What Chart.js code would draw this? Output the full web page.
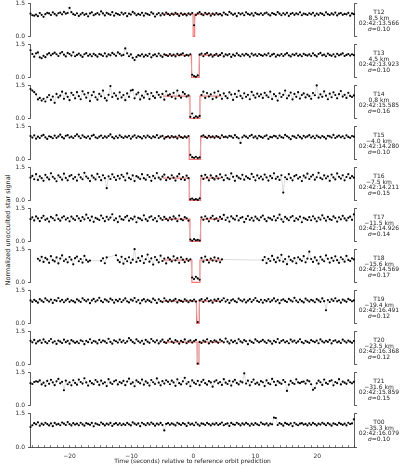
<!DOCTYPE html>
<html>
<head>
<meta charset="utf-8">
<script src="https://cdn.jsdelivr.net/npm/chart.js@4.4.0/dist/chart.umd.min.js"></script>
<style>
  body { margin: 0; background: #fff; }
  #wrap { position: relative; width: 400px; height: 465px; overflow: hidden; font-family: "DejaVu Sans", sans-serif; color: #222; }
  #wrap canvas { position: absolute; left: 0; }
  .tag { position: absolute; left: 356px; width: 46px; text-align: center; font-size: 6px; line-height: 5.7px; white-space: nowrap; }
  #ytitle { position: absolute; left: -142px; top: 226px; width: 300px; text-align: center; font-size: 6.5px; line-height: 8px; transform: rotate(-90deg); }
</style>
</head>
<body>
<div id="wrap"><div id="ytitle">Normalized unocculted star signal</div></div>
<script>
// sampling: one point every 0.3 s starting at t0
const t0 = -26.3;
const cadence = 0.3;

const stations = ['T12', 'T13', 'T14', 'T15', 'T16', 'T17', 'T18', 'T19', 'T20', 'T21', 'T00'];
const distances = ['8.5 km', '4.5 km', '0.8 km', '\u22124.0 km', '\u22127.5 km', '\u221211.5 km', '\u221215.6 km', '\u221219.4 km', '\u221223.5 km', '\u221231.6 km', '\u221235.3 km'];
const midTimes = ['02:42:13.566', '02:42:13.923', '02:42:15.585', '02:42:14.280', '02:42:14.211', '02:42:14.926', '02:42:14.569', '02:42:16.491', '02:42:16.368', '02:42:15.859', '02:42:16.079'];
const sigmas = ['0.10', '0.10', '0.16', '0.10', '0.15', '0.14', '0.17', '0.12', '0.12', '0.15', '0.10'];

// square-well model (seconds), null = no detection
const ingress = [-0.05, -0.3, -0.56, -0.68, -0.68, -0.56, -0.25, 0.5, 0.6, null, null];
const egress = [0.2, 0.95, 1.05, 1.16, 1.16, 1.16, 1.05, 0.95, 0.9, null, null];
const modelFrom = -4.9;
const modelTo = 4.5;

const fluxT12 = [
  1.02, 0.95, 0.93, 0.98, 0.91, 1.05, 0.97, 0.88, 1.00, 1.06, 1.03, 0.96, 1.08, 1.01, 0.94, 1.04, 1.07, 0.99, 1.10, 1.02, 1.05, 1.28, 1.09, 1.00, 0.96,
  1.04, 0.92, 0.99, 1.06, 0.97, 1.01, 0.90, 1.03, 1.08, 0.95, 1.00, 1.05, 0.98, 1.12, 1.03, 0.94, 1.06, 1.01, 0.97, 1.09, 0.93, 1.04, 1.00, 0.96, 1.07,
  0.99, 1.05, 0.91, 1.02, 0.98, 1.10, 1.03, 0.95, 1.01, 0.97, 1.06, 0.93, 1.04, 1.00, 0.96, 1.08, 1.02, 0.89, 0.99, 1.05, 0.94, 1.03, 0.97, 1.07, 1.01,
  0.95, 1.02, 0.98, 1.06, 1.00, 0.92, 1.04, 0.97, 1.01, 0.94, 1.03, 0.98, 1.05, 0.50, 0.96, 1.03, 1.09, 1.00, 0.95, 1.06, 0.99, 1.04, 0.93, 1.02, 0.97,
  1.05, 0.98, 1.01, 0.94, 1.07, 1.00, 0.96, 1.10, 1.03, 0.97, 1.02, 0.91, 1.05, 0.99, 1.04, 0.95, 1.08, 1.01, 0.97, 1.03, 0.93, 1.06, 1.00, 0.98, 1.04,
  0.96, 1.03, 1.07, 0.99, 0.94, 1.05, 1.01, 0.97, 1.09, 1.02, 0.95, 1.04, 0.98, 1.06, 0.92, 1.01, 1.05, 0.97, 1.03, 0.99, 1.08, 0.95, 1.02, 1.00, 0.96,
  1.04, 0.99, 1.06, 0.93, 1.02, 0.97, 1.05, 1.01, 0.95, 1.08, 1.00, 0.96, 1.03, 0.98, 1.07, 0.94, 1.02, 1.05, 0.97, 1.01, 0.99, 1.06, 0.93, 1.03, 1.00
];
const fluxT13 = [
  1.22, 1.05, 0.93, 1.08, 1.12, 0.90, 0.86, 0.97, 0.91, 1.03, 1.09, 0.99, 1.06, 1.11, 1.04, 0.96, 1.08, 1.14, 1.02, 0.94, 1.10, 1.05, 0.98, 1.13, 0.95,
  1.01, 1.07, 0.99, 0.92, 1.04, 1.09, 0.97, 1.03, 0.95, 1.06, 1.00, 0.93, 1.05, 1.02, 0.96, 1.08, 0.94, 1.03, 0.99, 1.10, 1.04, 0.97, 1.12, 1.06, 0.98,
  1.01, 1.30, 1.08, 0.95, 1.03, 0.88, 0.78, 0.92, 1.00, 0.97, 1.04, 0.93, 1.01, 0.96, 1.06, 0.90, 0.99, 1.03, 0.95, 1.07, 0.98, 0.92, 1.04, 1.00, 0.96,
  1.05, 0.97, 1.02, 0.94, 1.06, 0.99, 1.03, 1.08, 0.96, 1.01, 0.98, 1.04, 0.12, 0.06, 0.03, 0.09, 1.02, 1.07, 0.95, 1.05, 1.10, 0.98, 1.03, 0.93, 1.00,
  1.06, 0.96, 1.01, 1.09, 0.94, 1.03, 0.99, 1.05, 0.92, 1.02, 0.97, 1.08, 1.00, 0.95, 1.04, 0.98, 1.06, 1.01, 0.93, 1.07, 0.99, 1.03, 0.96, 1.05, 1.00,
  0.97, 1.04, 0.99, 1.08, 0.95, 1.02, 1.06, 0.93, 1.01, 0.98, 1.05, 0.96, 1.03, 1.09, 0.99, 0.94, 1.04, 1.00, 1.07, 0.97, 1.02, 0.95, 1.06, 1.01, 0.98,
  1.03, 0.96, 1.08, 1.00, 0.94, 1.05, 1.10, 0.99, 1.02, 0.95, 1.07, 1.01, 0.97, 1.04, 0.93, 1.06, 0.99, 1.03, 1.08, 0.96, 1.01, 1.05, 0.98, 1.04, 1.00
];
const fluxT14 = [
  1.32, 1.25, 1.18, 1.08, 0.85, 0.92, 0.80, 0.88, 0.76, 0.95, 1.05, 0.83, 0.98, 0.70, 1.10, 0.94, 1.02, 1.20, 0.88, 1.12, 0.97, 0.82, 1.15, 1.05, 0.90,
  1.18, 1.00, 0.86, 1.22, 1.08, 0.93, 1.15, 0.78, 1.04, 1.19, 0.95, 0.84, 1.10, 0.99, 1.25, 0.91, 0.80, 1.06, 1.45, 0.96, 1.13, 1.02, 0.88, 1.17, 0.94,
  1.05, 0.82, 1.12, 0.97, 1.25, 1.28, 0.90, 1.08, 1.16, 0.85, 1.02, 0.93, 1.21, 1.09, 0.87, 1.14, 1.00, 0.92, 1.18, 1.06, 0.95, 1.10, 0.84, 1.22, 1.03,
  1.08, 0.96, 1.15, 0.89, 1.25, 1.02, 0.93, 1.18, 1.10, 0.98, 1.03, 0.07, 0.22, 0.03, 0.09, 0.05, 0.11, 1.05, 1.20, 0.92, 1.14, 0.98, 1.08, 0.87, 1.16,
  0.94, 1.22, 1.05, 0.88, 1.12, 1.00, 0.91, 1.17, 1.07, 0.83, 1.10, 0.96, 1.24, 1.01, 0.90, 1.13, 0.97, 1.06, 0.86, 1.19, 1.04, 0.93, 1.11, 0.99, 1.08,
  0.92, 1.15, 1.03, 0.95, 1.20, 0.87, 1.09, 1.00, 0.80, 1.13, 0.96, 1.06, 1.25, 0.90, 1.02, 1.16, 0.85, 1.10, 0.97, 1.18, 0.89, 1.05, 1.12, 0.94, 1.07,
  1.00, 0.88, 1.14, 1.04, 1.48, 0.93, 1.08, 0.97, 1.21, 1.02, 0.86, 1.11, 0.95, 1.17, 1.05, 0.90, 1.09, 1.23, 0.98, 1.06, 0.92, 1.15, 1.01, 0.96, 1.03
];
const fluxT15 = [
  1.05, 0.98, 1.08, 0.93, 1.02, 0.96, 1.06, 1.10, 0.99, 0.92, 1.04, 1.01, 0.95, 1.07, 0.97, 1.03, 1.11, 1.00, 0.94, 1.06, 1.09, 0.98, 1.02, 0.96, 1.05,
  1.12, 1.03, 0.95, 1.08, 1.01, 0.97, 1.04, 0.93, 1.06, 1.10, 0.99, 0.95, 1.02, 1.07, 0.96, 1.03, 0.98, 1.05, 1.12, 1.00, 0.94, 1.04, 0.97, 1.08, 1.01,
  0.96, 1.03, 0.99, 1.06, 0.93, 1.02, 1.08, 0.97, 1.04, 1.00, 0.94, 1.05, 0.98, 1.07, 1.01, 0.95, 1.03, 0.99, 1.09, 0.96, 1.02, 1.06, 0.93, 1.00, 1.04,
  0.97, 1.05, 0.99, 1.02, 0.94, 1.07, 1.00, 0.96, 1.03, 0.98, 1.05, 0.20, 0.10, 0.07, 0.12, 0.06, 0.09, 1.04, 1.08, 1.01, 0.96, 1.06, 0.99, 1.03, 0.97,
  1.05, 1.01, 0.95, 1.08, 1.00, 1.02, 0.98, 1.06, 1.03, 0.97, 1.09, 1.00, 0.95, 0.74, 0.99, 1.07, 1.02, 0.96, 1.05, 1.10, 0.98, 1.03, 0.94, 1.06, 1.01,
  0.97, 1.04, 1.08, 0.92, 1.01, 0.99, 1.06, 1.03, 0.95, 1.07, 1.00, 0.97, 1.10, 1.04, 0.98, 0.91, 1.05, 1.02, 0.96, 1.08, 1.01, 0.94, 1.06, 0.99, 1.03,
  1.09, 0.98, 1.04, 0.95, 1.07, 1.01, 0.97, 1.05, 1.00, 0.93, 1.06, 1.03, 0.98, 1.10, 0.96, 1.02, 1.07, 0.99, 1.04, 0.95, 1.08, 1.01, 0.97, 1.05, 1.02
];
const fluxT16 = [
  1.02, 1.10, 0.95, 1.18, 0.92, 1.08, 1.00, 0.88, 1.15, 1.03, 0.94, 1.22, 1.06, 0.98, 0.86, 1.12, 1.04, 0.93, 1.20, 1.01, 0.90, 1.09, 1.14, 0.97, 1.05,
  0.89, 1.16, 1.03, 0.95, 1.24, 1.07, 0.99, 0.87, 1.11, 1.02, 0.94, 1.19, 1.05, 0.91, 1.13, 1.00, 0.55, 1.08, 0.96, 1.17, 1.04, 0.92, 1.10, 0.98, 1.15,
  1.06, 0.90, 1.21, 1.01, 0.95, 1.12, 0.87, 1.09, 1.03, 0.96, 1.18, 1.00, 0.93, 1.14, 1.05, 0.88, 1.10, 0.99, 1.23, 1.02, 0.94, 1.07, 1.16, 0.91, 1.04,
  0.97, 1.13, 1.02, 0.89, 1.08, 1.19, 0.95, 1.05, 0.92, 1.11, 1.00, 0.05, 0.08, 0.03, 0.06, 0.02, 0.09, 1.10, 0.96, 1.15, 1.03, 0.90, 1.12, 1.01, 0.94,
  1.09, 0.98, 1.17, 1.04, 0.91, 1.13, 1.00, 0.95, 1.21, 1.06, 0.88, 1.10, 1.02, 0.97, 1.15, 0.93, 1.08, 1.01, 0.96, 1.19, 1.05, 0.90, 1.12, 0.99, 1.07,
  0.94, 1.16, 1.03, 0.89, 1.10, 1.00, 1.22, 0.97, 1.06, 0.92, 1.13, 0.35, 1.04, 0.95, 1.18, 1.01, 0.90, 1.09, 1.14, 0.98, 1.05, 0.87, 1.11, 1.02, 1.20,
  0.96, 1.07, 1.15, 0.93, 1.04, 1.24, 1.01, 0.95, 1.12, 0.99, 1.08, 0.88, 1.16, 1.03, 0.94, 1.21, 1.06, 0.98, 1.13, 0.90, 1.05, 1.18, 1.00, 1.09, 1.02
];
const fluxT17 = [
  1.00, 1.08, 0.94, 1.12, 1.03, 0.91, 1.06, 1.15, 0.97, 1.02, 0.89, 1.10, 1.04, 0.95, 1.18, 1.01, 0.93, 1.07, 1.13, 0.98, 1.05, 0.90, 1.11, 1.02, 0.96,
  1.14, 1.03, 0.92, 1.09, 0.99, 1.20, 1.05, 0.94, 1.11, 0.88, 1.06, 1.01, 0.96, 1.16, 1.04, 0.91, 1.10, 0.98, 1.07, 1.22, 0.95, 1.03, 0.87, 1.12, 1.00,
  0.97, 1.09, 1.15, 0.93, 1.04, 0.99, 1.11, 0.86, 1.06, 1.02, 0.95, 1.17, 1.00, 0.92, 1.08, 1.13, 0.97, 1.05, 0.90, 1.14, 1.03, 0.96, 1.10, 1.01, 0.94,
  1.07, 0.98, 1.12, 1.03, 0.91, 1.16, 1.00, 0.95, 1.09, 1.04, 0.93, 0.08, 0.03, 0.10, 0.05, 0.07, 0.04, 1.08, 0.97, 1.13, 1.02, 0.90, 1.06, 1.15, 0.99,
  1.04, 0.92, 1.10, 1.01, 1.19, 0.96, 1.07, 0.89, 1.12, 1.03, 0.98, 1.15, 0.94, 1.05, 1.09, 0.87, 1.01, 1.14, 0.97, 1.06, 0.93, 1.11, 1.02, 0.95, 1.08,
  1.16, 1.00, 0.91, 1.07, 1.03, 0.97, 1.13, 0.94, 1.05, 1.20, 0.99, 0.88, 1.10, 1.02, 0.95, 1.08, 1.14, 0.92, 1.04, 0.98, 1.11, 0.86, 1.06, 1.01, 0.96,
  1.09, 0.95, 1.13, 1.02, 0.90, 1.07, 0.98, 1.17, 1.04, 0.93, 1.10, 1.00, 0.96, 1.12, 1.05, 0.89, 1.08, 0.99, 1.15, 1.03, 0.94, 1.06, 1.11, 0.97, 1.21
];
const fluxT18 = [
  null, null, null, null, 1.06, 0.98, 1.15, 0.92, 1.10, 1.03, 0.88, 1.18, 1.00, 0.94, 1.12, 0.85, 1.07, 1.21, 0.96, 1.04, 0.90, 1.14, 1.02, 0.81, 1.09,
  1.16, 0.95, 1.05, 0.89, 1.19, 1.01, 0.93, 0.98, null, null, null, null, null, 0.97, 1.08, 0.86, 1.12, null, null, null, null, 1.22, 1.00, 0.91, 1.15,
  0.84, 1.06, 0.95, 1.13, 0.88, 1.02, 1.49, 0.92, 1.10, 0.97, 1.18, 0.87, 1.04, 1.25, 0.93, 1.08, 0.80, 1.14, 1.01, 0.90, 1.20, 0.96, 1.07, 0.85, 1.11,
  1.03, 0.94, 1.17, 0.99, 1.09, 0.88, 1.13, 1.02, 0.91, 1.06, 0.97, 1.04, 0.22, 0.15, 0.25, 0.18, 0.12, 1.10, 0.93, 1.16, 1.01, 0.89, 1.07, 0.98, 1.12,
  0.95, 1.08, 0.90, 1.03, null, null, null, null, null, null, null, null, null, null, null, null, null, null, null, null, null, null, null, null, null,
  1.00, 1.14, 0.87, 1.06, 0.96, 1.19, 1.02, 0.91, 1.11, 0.98, 1.24, 0.93, 1.05, 0.82, 1.16, 1.01, 0.94, 1.09, 0.86, 1.13, 1.03, 0.97, 1.18, 0.90, 1.07,
  1.38, 1.05, 0.92, 1.12, 0.99, 0.84, 1.15, 1.02, 0.95, 1.21, 1.06, 0.89, 1.10, 0.97, 1.17, 1.00, 0.88, 1.13, 1.04, 0.93, 1.19, 1.01, 0.96, 1.08, 1.03
];
const fluxT19 = [
  1.03, 0.97, 1.06, 1.00, 0.93, 1.09, 1.02, 0.96, 1.12, 1.04, 0.98, 1.07, 0.92, 1.05, 1.01, 1.14, 0.99, 1.06, 0.95, 1.03, 1.10, 0.97, 1.04, 1.00, 0.94,
  1.08, 1.02, 0.96, 1.13, 1.05, 0.99, 1.07, 0.91, 1.03, 1.10, 0.98, 1.04, 1.15, 1.01, 0.95, 1.08, 1.03, 0.97, 1.11, 1.05, 0.93, 1.06, 1.00, 1.09, 0.96,
  1.04, 1.12, 0.99, 0.94, 1.07, 1.02, 1.14, 0.97, 1.05, 0.90, 1.03, 1.09, 0.98, 1.06, 1.01, 0.95, 1.11, 1.04, 0.92, 1.08, 1.00, 0.96, 1.13, 1.02, 0.97,
  1.06, 0.99, 1.03, 1.10, 0.94, 1.05, 1.01, 0.97, 1.08, 1.02, 0.95, 1.04, 1.00, 1.07, 0.98, 0.06, 1.03, 1.09, 0.96, 1.05, 1.12, 0.99, 1.04, 0.93, 1.07,
  1.01, 1.10, 0.97, 1.04, 1.13, 0.98, 1.06, 0.92, 1.03, 1.08, 1.00, 0.95, 1.11, 1.04, 0.99, 1.07, 0.94, 1.02, 1.09, 0.97, 1.05, 1.14, 1.01, 0.96, 1.06,
  0.93, 1.05, 1.00, 1.09, 0.97, 1.03, 1.12, 0.99, 1.06, 0.91, 1.04, 1.08, 1.01, 0.96, 1.10, 1.03, 0.98, 1.15, 1.02, 0.95, 1.07, 1.00, 0.94, 1.11, 1.04,
  0.98, 1.06, 1.02, 0.95, 1.09, 1.03, 0.97, 1.12, 1.00, 0.59, 1.05, 0.96, 1.08, 1.01, 1.13, 0.99, 1.04, 0.93, 1.07, 1.02, 0.97, 1.10, 1.05, 0.99, 1.03
];
const fluxT20 = [
  1.06, 0.99, 1.10, 0.94, 1.03, 1.08, 0.97, 1.12, 1.01, 0.95, 1.05, 1.14, 0.98, 1.04, 0.92, 1.07, 1.02, 0.96, 1.11, 1.00, 1.06, 0.93, 1.09, 1.03, 0.97,
  1.02, 0.95, 1.08, 1.04, 0.91, 1.06, 1.00, 1.13, 0.97, 1.05, 1.02, 0.94, 1.10, 0.99, 1.07, 1.03, 0.96, 1.15, 1.01, 0.93, 1.08, 1.04, 0.98, 1.11, 1.00,
  1.07, 0.96, 1.03, 1.18, 1.09, 1.01, 0.95, 1.12, 1.04, 0.98, 1.06, 0.92, 1.10, 1.02, 0.97, 1.14, 1.05, 0.99, 1.08, 0.94, 1.03, 1.11, 1.00, 0.96, 1.07,
  1.15, 1.02, 0.97, 1.09, 1.04, 0.93, 1.06, 1.00, 1.12, 0.95, 1.03, 1.08, 0.98, 1.05, 1.10, 0.04, 1.01, 0.96, 1.07, 1.02, 1.13, 0.94, 1.05, 0.99, 1.08,
  1.03, 0.97, 1.11, 1.05, 0.99, 1.16, 1.02, 0.94, 1.08, 1.00, 1.06, 0.95, 1.13, 1.03, 0.98, 1.09, 1.04, 0.91, 1.07, 1.01, 0.96, 1.12, 1.05, 0.99, 1.04,
  1.10, 1.02, 0.96, 1.08, 1.03, 0.93, 1.06, 1.00, 1.14, 0.97, 1.05, 1.09, 0.99, 1.04, 0.95, 1.11, 1.02, 1.07, 0.97, 1.03, 1.13, 1.00, 0.95, 1.06, 1.01,
  0.97, 1.09, 1.04, 1.00, 1.07, 0.95, 1.12, 1.03, 0.98, 1.06, 1.01, 1.10, 0.94, 1.05, 1.08, 0.99, 1.03, 0.96, 1.11, 1.04, 0.98, 1.07, 1.02, 0.97, 1.05
];
const fluxT21 = [
  1.00, 0.96, 1.05, 1.08, 1.06, 1.12, 0.94, 1.02, 0.88, 1.10, 0.97, 1.15, 1.03, 0.91, 1.08, 1.19, 0.99, 1.06, 0.68, 1.11, 0.95, 1.04, 0.90, 1.13, 1.01,
  0.93, 1.16, 1.05, 0.98, 1.22, 1.03, 0.89, 1.09, 1.00, 0.95, 1.14, 1.06, 0.92, 1.11, 0.98, 1.04, 0.87, 1.18, 1.02, 0.96, 1.08, 1.13, 0.94, 1.05, 1.00,
  1.10, 0.91, 1.07, 1.20, 0.97, 1.03, 0.86, 1.12, 1.05, 0.99, 1.16, 0.93, 1.08, 1.01, 0.89, 1.14, 1.04, 0.96, 1.21, 1.02, 0.90, 1.09, 0.98, 1.13, 1.06,
  0.95, 1.11, 1.03, 0.88, 1.17, 1.00, 0.94, 1.08, 1.24, 0.97, 1.05, 0.86, 1.12, 1.02, 0.96, 1.10, 0.91, 1.06, 1.15, 1.00, 0.93, 1.09, 1.03, 0.84, 1.07,
  1.13, 0.99, 1.05, 0.92, 1.18, 1.02, 0.96, 1.10, 0.89, 1.07, 1.15, 1.01, 0.94, 1.08, 1.03, 1.44, 0.98, 1.11, 0.90, 1.05, 1.16, 0.97, 1.02, 0.93, 1.09,
  1.04, 0.87, 1.12, 1.00, 0.95, 1.19, 1.06, 0.91, 1.09, 1.02, 0.97, 1.14, 1.05, 0.65, 0.93, 1.10, 1.01, 0.96, 1.17, 1.03, 1.00, 1.06, 1.07, 0.98, 1.12,
  1.08, 0.95, 0.70, 0.78, 0.99, 1.11, 1.04, 0.92, 1.16, 1.01, 0.96, 1.09, 1.13, 0.90, 1.05, 1.00, 1.18, 0.94, 1.07, 1.02, 0.97, 1.12, 1.04, 0.99, 1.06
];
const fluxT00 = [
  0.88, 0.96, 1.05, 1.00, 1.09, 0.94, 1.03, 0.98, 1.07, 1.01, 0.95, 1.04, 0.92, 1.06, 0.99, 1.02, 0.96, 1.08, 1.03, 0.97, 1.10, 1.01, 0.95, 1.05, 0.99,
  1.03, 0.96, 1.07, 1.00, 0.94, 1.05, 1.02, 0.98, 1.06, 0.91, 1.04, 1.00, 0.97, 1.08, 1.02, 0.95, 1.03, 0.99, 1.06, 0.93, 1.01, 1.05, 0.98, 1.04, 0.96,
  1.02, 0.97, 1.06, 1.00, 0.95, 1.09, 1.03, 0.98, 1.04, 0.92, 1.07, 1.01, 0.96, 1.05, 0.99, 1.08, 1.02, 0.94, 1.03, 0.99, 1.06, 0.97, 0.73, 1.02, 1.05,
  0.98, 1.04, 1.00, 0.95, 1.07, 1.02, 0.97, 1.05, 1.01, 0.93, 1.06, 0.99, 1.03, 0.96, 1.08, 1.00, 0.94, 1.04, 1.02, 0.97, 1.06, 1.01, 0.95, 1.03, 0.99,
  1.05, 0.97, 1.02, 1.08, 0.96, 1.01, 1.04, 0.93, 1.06, 1.00, 0.98, 1.07, 1.02, 0.95, 1.04, 0.99, 1.06, 1.01, 0.94, 1.03, 0.97, 1.05, 1.00, 0.96, 1.08,
  1.02, 0.99, 1.04, 0.95, 1.03, 1.00, 1.30, 1.28, 0.97, 1.05, 1.01, 0.94, 1.06, 1.02, 0.98, 1.04, 0.92, 1.07, 1.00, 0.96, 1.03, 1.05, 0.99, 1.02, 0.95,
  1.04, 0.98, 1.06, 1.01, 0.95, 1.03, 0.99, 1.07, 1.02, 0.96, 1.05, 1.00, 0.94, 1.04, 1.01, 0.97, 1.06, 1.02, 0.98, 1.03, 0.95, 1.07, 1.01, 1.04, 1.22
];

const fluxes = [fluxT12, fluxT13, fluxT14, fluxT15, fluxT16, fluxT17, fluxT18, fluxT19, fluxT20, fluxT21, fluxT00];

// page geometry
const X_MIN = -26.3, X_MAX = 26.0;
const PANEL_TOP = 3, PANEL_PITCH = 40.95, PANEL_SPAN = 34, PAD_TOP = 8, PAD_BOTTOM = 6, XAXIS_H = 18;
const PLOT_LEFT = 30.5, PLOT_RIGHT = 354.5;
const INK = '#333';
const smallFont = { family: 'DejaVu Sans', size: 6 };

function minusFmt(v, digits) {
    const s = Math.abs(v).toFixed(digits);
    return v < 0 ? '\u2212' + s : s;
}

const wrap = document.getElementById('wrap');

fluxes.forEach(function (flux, i) {
    const last = i === fluxes.length - 1;
    const top = Math.round(PANEL_TOP + i * PANEL_PITCH);

    var canvas = document.createElement('canvas');
    canvas.width = 400;
    canvas.height = PAD_TOP + PANEL_SPAN + (last ? XAXIS_H : PAD_BOTTOM);
    canvas.style.top = (top - PAD_TOP) + 'px';
    wrap.appendChild(canvas);

    var datasets = [{
        xAxisID: 'x',
        yAxisID: 'y',
        data: flux.map((v, k) => ({ x: t0 + k * cadence, y: v })),
        borderColor: '#c4c4c4',
        borderWidth: 0.6,
        pointRadius: 1.1,
        pointHoverRadius: 0,
        pointBackgroundColor: '#000',
        pointBorderWidth: 0,
        spanGaps: true,
        clip: false
    }];
    if (ingress[i] !== null) {
        datasets.push({
            xAxisID: 'x',
            yAxisID: 'y',
            data: [
                { x: modelFrom, y: 1 }, { x: ingress[i], y: 1 }, { x: ingress[i], y: 0 },
                { x: egress[i], y: 0 }, { x: egress[i], y: 1 }, { x: modelTo, y: 1 }
            ],
            borderColor: 'rgba(245,70,70,0.75)',
            borderWidth: 1.1,
            pointRadius: 0,
            clip: false
        });
    }

    var chart = new Chart(canvas.getContext('2d'), {
        type: 'line',
        data: { datasets: datasets },
        options: {
            responsive: false,
            animation: false,
            events: [],
            layout: { padding: { top: PAD_TOP, bottom: last ? 0 : PAD_BOTTOM, left: 0, right: 400 - PLOT_RIGHT - 3 } },
            plugins: { legend: { display: false }, tooltip: { enabled: false } },
            scales: {
                x: {
                    type: 'linear',
                    min: X_MIN,
                    max: X_MAX,
                    display: last,
                    afterBuildTicks: function (s) {
                        var t = [];
                        for (var v = Math.ceil(X_MIN); v <= Math.floor(X_MAX); v++) t.push({ value: v });
                        s.ticks = t;
                    },
                    // only the bottom panel keeps room for the time axis
                    afterFit: function (s) { s.height = last ? XAXIS_H : 0; },
                    ticks: {
                        autoSkip: false,
                        maxRotation: 0,
                        padding: 7.5,
                        font: smallFont,
                        color: INK,
                        callback: v => (v % 10 === 0 ? minusFmt(v, 0) : '')
                    },
                    grid: { drawOnChartArea: false, tickLength: -2, color: INK, lineWidth: 0.6 },
                    border: { color: INK, width: 0.8 },
                    title: {
                        display: true,
                        text: 'Time (seconds) relative to reference orbit prediction',
                        font: smallFont,
                        color: '#222',
                        padding: 0
                    }
                },
                y: {
                    min: 0,
                    max: 1.5,
                    position: 'left',
                    afterBuildTicks: function (s) { s.ticks = [{ value: 0 }, { value: 1.5 }]; },
                    afterFit: function (s) { s.width = PLOT_LEFT; },
                    ticks: { padding: 3, font: smallFont, color: INK, callback: v => v.toFixed(1) },
                    grid: { drawOnChartArea: false, tickLength: 2.5, color: INK, lineWidth: 0.8 },
                    border: { color: INK, width: 0.8 }
                },
                yR: {
                    min: 0,
                    max: 1.5,
                    position: 'right',
                    afterBuildTicks: function (s) { s.ticks = [{ value: 0 }, { value: 1.5 }]; },
                    afterFit: function (s) { s.width = 3; },
                    ticks: { display: false },
                    grid: { drawOnChartArea: false, tickLength: 2.5, color: INK, lineWidth: 0.8 },
                    border: { color: INK, width: 0.8 }
                }
            }
        }
    });
    // keep the 1.5 level exactly at the panel top even if the layout nudged the plot area
    canvas.style.top = (top - chart.chartArea.top) + 'px';

    var tag = document.createElement('div');
    tag.className = 'tag';
    tag.style.top = (top + 5.9) + 'px';
    tag.innerHTML = stations[i] + '<br>' + distances[i] + '<br>' + midTimes[i] + '<br><i>\u03c3</i>=' + sigmas[i];
    wrap.appendChild(tag);
});
</script>
</body>
</html>
